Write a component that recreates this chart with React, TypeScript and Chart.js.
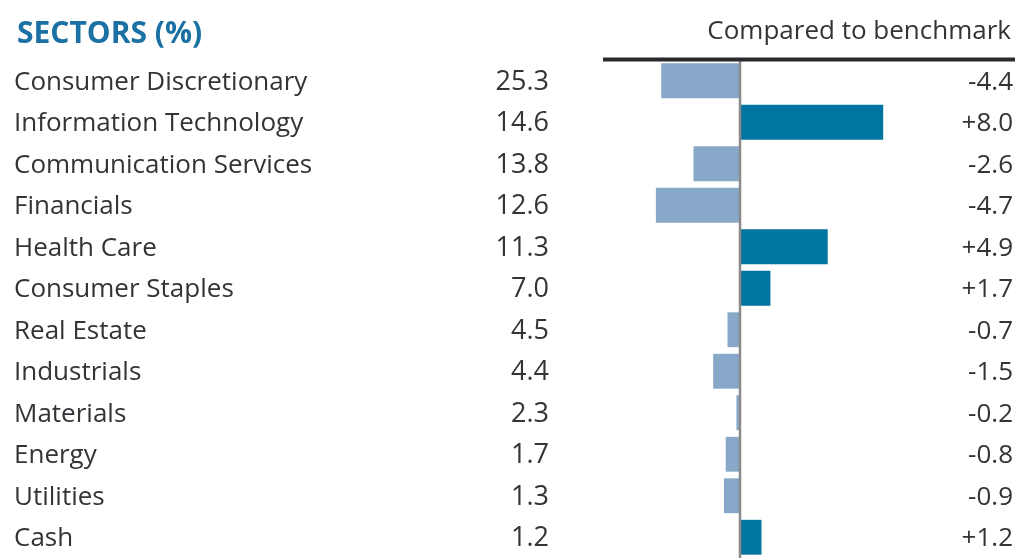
import React, { useEffect, useRef } from "react";
import { Chart, registerables } from "chart.js";

Chart.register(...registerables);

const sectors = [
  "Consumer Discretionary",
  "Information Technology",
  "Communication Services",
  "Financials",
  "Health Care",
  "Consumer Staples",
  "Real Estate",
  "Industrials",
  "Materials",
  "Energy",
  "Utilities",
  "Cash",
];
const weights = [25.3, 14.6, 13.8, 12.6, 11.3, 7.0, 4.5, 4.4, 2.3, 1.7, 1.3, 1.2];
const relative = [-4.4, 8.0, -2.6, -4.7, 4.9, 1.7, -0.7, -1.5, -0.2, -0.8, -0.9, 1.2];

const TITLE = "SECTORS (%)";
const SUBTITLE = "Compared to benchmark";
const POS_COLOR = "#00759f";
const NEG_COLOR = "#87a8c8";
const TEXT_COLOR = "#333338";
const TITLE_COLOR = "#1b70a4";
const FONT = "'Open Sans', sans-serif";

const fmtRel = (v: number) => (v > 0 ? "+" : v < 0 ? "-" : "") + Math.abs(v).toFixed(1);

export default function App() {
  const ref = useRef<HTMLCanvasElement | null>(null);

  useEffect(() => {
    if (!ref.current) return;
    const textPlugin = {
      id: "tableText",
      afterDatasetsDraw(chart: any) {
        const { ctx, chartArea, scales } = chart;
        const xs = scales.x;
        const ys = scales.y;
        const zx = xs.getPixelForValue(0);
        ctx.save();
        // zero line
        ctx.strokeStyle = "#8a8a8a";
        ctx.lineWidth = 2.5;
        ctx.beginPath();
        ctx.moveTo(zx, chartArea.top);
        ctx.lineTo(zx, 558);
        ctx.stroke();
        // top rule
        ctx.strokeStyle = "#2a2a2e";
        ctx.lineWidth = 4;
        ctx.beginPath();
        ctx.moveTo(chartArea.left, chartArea.top - 0.5);
        ctx.lineTo(chartArea.right, chartArea.top - 0.5);
        ctx.stroke();
        // title
        ctx.fillStyle = TITLE_COLOR;
        ctx.font = `bold 30px ${FONT}`;
        ctx.textBaseline = "alphabetic";
        ctx.textAlign = "left";
        ctx.fillText(TITLE, 17, 43);
        ctx.fillStyle = TEXT_COLOR;
        ctx.font = `26px ${FONT}`;
        ctx.textAlign = "right";
        ctx.fillText(SUBTITLE, 1011, 39);
        // rows
        sectors.forEach((s, i) => {
          const y = ys.getPixelForValue(i) + 9;
          ctx.font = `26px ${FONT}`;
          ctx.textAlign = "left";
          ctx.fillText(s, 14, y);
          ctx.textAlign = "right";
          ctx.font = `27px ${FONT}`;
          ctx.fillText(weights[i].toFixed(1), 549, y);
          ctx.font = `26px ${FONT}`;
          ctx.fillText(fmtRel(relative[i]), 1013, y);
        });
        ctx.restore();
      },
    };

    const chart = new Chart(ref.current, {
      type: "bar",
      data: {
        labels: sectors,
        datasets: [
          {
            data: relative,
            backgroundColor: relative.map((v) => (v >= 0 ? POS_COLOR : NEG_COLOR)),
            borderWidth: 0,
            barPercentage: 0.84,
            categoryPercentage: 1,
          },
        ],
      },
      options: {
        indexAxis: "y",
        animation: false,
        responsive: false,
        maintainAspectRatio: false,
        layout: { padding: { left: 603, right: 4, top: 60, bottom: -3 } },
        plugins: { legend: { display: false }, tooltip: { enabled: false } },
        scales: {
          x: { display: false, min: -7.654, max: 15.363, grid: { display: false } },
          y: { display: false, grid: { display: false } },
        },
      },
      plugins: [textPlugin],
    });
    return () => chart.destroy();
  }, []);

  return (
    <div style={{ position: "fixed", left: 0, top: 0, width: 1019, height: 558, background: "#fff" }}>
      <canvas ref={ref} width={1019} height={558} style={{ display: "block" }} />
    </div>
  );
}
